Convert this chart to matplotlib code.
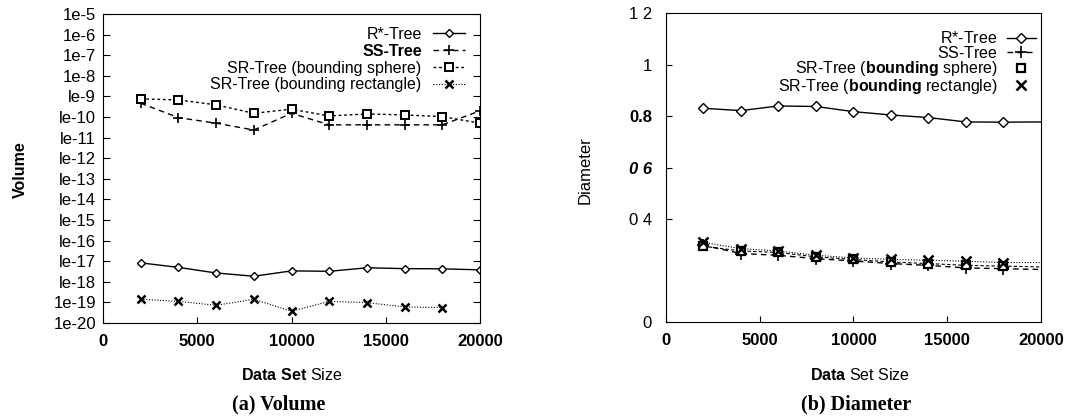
import matplotlib
matplotlib.use("Agg")
import matplotlib.pyplot as plt

plt.rcParams['font.family'] = ['Liberation Sans', 'DejaVu Sans']
plt.rcParams['mathtext.fontset'] = 'custom'
plt.rcParams['mathtext.rm'] = 'Liberation Sans'
plt.rcParams['mathtext.bf'] = 'Liberation Sans:bold'

sizes = [2000, 4000, 6000, 8000, 10000, 12000, 14000, 16000, 18000, 20000]

# (a) volume, log10 of values
vol_rstar = [-17.08, -17.30, -17.57, -17.73, -17.47, -17.49, -17.32, -17.36, -17.37, -17.42]
vol_ss = [-9.33, -10.03, -10.30, -10.63, -9.82, -10.38, -10.38, -10.38, -10.38, -9.70]
vol_sr_sphere = [-9.12, -9.17, -9.41, -9.82, -9.62, -9.95, -9.85, -9.90, -9.98, -10.30]
vol_sr_rect = [-18.85, -18.95, -19.14, -18.85, -19.43, -18.95, -19.01, -19.22, -19.25]

vol_ticks = list(range(-5, -21, -1))
vol_ticklabels = ["1e-5", "1e-6", "1e-7", "1e-8", "le-9", "le-10", "le-11", "le-12",
                  "le-13", "le-14", "le-15", "le-16", "le-17", "le-18", "1e-19", "1e-20"]

# (b) diameter
dia_sizes = [2000, 4000, 6000, 8000, 10000, 12000, 14000, 16000, 18000]
dia_rstar = [0.830, 0.821, 0.839, 0.837, 0.817, 0.804, 0.794, 0.777, 0.776, 0.777]
dia_ss = [0.298, 0.266, 0.259, 0.246, 0.237, 0.227, 0.220, 0.210, 0.207, 0.204]
dia_sr_sphere = [0.294, 0.276, 0.270, 0.253, 0.243, 0.233, 0.227, 0.220, 0.217, 0.214]
dia_sr_rect = [0.309, 0.285, 0.276, 0.259, 0.249, 0.243, 0.240, 0.236, 0.231, 0.231]

dia_ticks = [0, 0.4, 0.6, 0.8, 1.0, 1.2]
dia_ticklabels = ["0", "0 4", "0 6", "0.8", "1", "1 2"]

x_ticks = [0, 5000, 10000, 15000, 20000]

fig = plt.figure(figsize=(10.91, 4.17), dpi=100)

# ---- (a) Volume ----
ax1 = fig.add_axes([0.0944, 0.2254, 0.3456, 0.741])
ax1.set_yscale('log')
ax1.plot(sizes, [10 ** v for v in vol_rstar], color='black', lw=1.0, marker='D',
         ms=4, mfc='white', mew=1.0, label="R*-Tree")
ax1.plot(sizes, [10 ** v for v in vol_ss], color='black', lw=1.0, ls=(0, (4, 3)),
         marker='+', ms=7, mew=1.2, label="SS-Tree")
ax1.plot(sizes, [10 ** v for v in vol_sr_sphere], color='black', lw=1.0, ls=(0, (2, 2)),
         marker='s', ms=6, mfc='white', mew=1.4, label="SR-Tree (bounding sphere)")
ax1.plot(sizes[:9], [10 ** v for v in vol_sr_rect], color='black', lw=0.8, ls=(0, (1, 1.5)),
         marker='x', ms=6, mew=1.8, label="SR-Tree (bounding rectangle)")
ax1.set_xlim(0, 20000)
ax1.set_ylim(1e-20, 1e-5)
ax1.set_yticks([10.0 ** t for t in vol_ticks])
ax1.set_yticklabels(vol_ticklabels)
ax1.minorticks_off()
ax1.set_xticks(x_ticks)
ax1.tick_params(axis='y', direction='in', right=True, length=5, labelsize=12, pad=5)
ax1.tick_params(axis='x', direction='in', length=4, labelsize=12, pad=8)
for lbl in ax1.get_xticklabels():
    lbl.set_fontweight('bold')
leg1 = ax1.legend(loc='upper right', bbox_to_anchor=(0.985, 0.99), frameon=False,
                  markerfirst=False, fontsize=11.5, handlelength=2.0, handletextpad=0.7,
                  labelspacing=0.12, borderaxespad=0.2)
leg1.get_texts()[1].set_fontweight('bold')

# ---- (b) Diameter ----
ax2 = fig.add_axes([0.6104, 0.2278, 0.3437, 0.741])
ax2.plot(sizes, dia_rstar, color='black', lw=1.0, marker='D', markevery=list(range(9)),
         ms=5, mfc='white', mew=1.0, label="$\\mathrm{R}$*-Tree")
ax2.plot(sizes, dia_ss, color='black', lw=1.0, ls=(0, (4, 3)), marker='+',
         markevery=list(range(9)), ms=8, mew=1.2, label="$\\mathrm{S}$S-Tree")
ax2.plot(sizes, dia_sr_sphere, color='black', lw=0.8, ls=(0, (3, 2)))
ax2.plot(sizes, dia_sr_rect, color='black', lw=0.8, ls=(0, (1, 1.5)))
ax2.plot(dia_sizes, dia_sr_sphere[:9], ls='none', color='black', marker='s', ms=6,
         mfc='white', mew=1.6, label="SR-Tree ($\\mathbf{bounding}$ sphere)")
ax2.plot(dia_sizes, dia_sr_rect[:9], ls='none', color='black', marker='x', ms=7,
         mew=1.8, label="SR-Tree ($\\mathbf{bounding}$ rectangle)")
ax2.set_xlim(0, 20000)
ax2.set_ylim(0, 1.2)
ax2.set_yticks(dia_ticks)
ax2.set_yticklabels(dia_ticklabels)
ax2.set_xticks(x_ticks)
ax2.tick_params(axis='y', direction='in', length=4, labelsize=12, pad=10)
ax2.tick_params(axis='x', direction='in', length=4, labelsize=12, pad=8)
ax2.get_yticklabels()[2].set_fontweight('bold')
ax2.get_yticklabels()[2].set_fontstyle('italic')
ax2.get_yticklabels()[3].set_fontweight('bold')
for lbl in ax2.get_xticklabels():
    lbl.set_fontweight('bold')
leg2 = ax2.legend(loc='upper right', bbox_to_anchor=(1.012, 0.975), frameon=False,
                  markerfirst=False, fontsize=11.5, handlelength=1.8, handletextpad=0.6,
                  labelspacing=-0.1, borderaxespad=0.2)

# axis titles and captions
fig.text(20 / 1091, 1 - 170 / 417, "Volume", rotation=90, ha='center', va='center',
         fontsize=11.5, fontweight='bold')
fig.text(585 / 1091, 1 - 170 / 417, "Diameter", rotation=90, ha='center', va='center',
         fontsize=12)
fig.text(292 / 1091, 1 - 375 / 417, "$\\mathbf{Data\\ Set}$ Size", ha='center',
         va='center', fontsize=11.5)
fig.text(860 / 1091, 1 - 375 / 417, "$\\mathbf{Data}$ Set Size", ha='center',
         va='center', fontsize=11.5)
fig.text(279 / 1091, 1 - 404 / 417, "(a) Volume", ha='center', va='center',
         fontsize=14.5, fontweight='bold', family='Liberation Serif')
fig.text(856 / 1091, 1 - 404 / 417, "(b) Diameter", ha='center', va='center',
         fontsize=14.5, fontweight='bold', family='Liberation Serif')

fig.savefig("out.png", dpi=100)
